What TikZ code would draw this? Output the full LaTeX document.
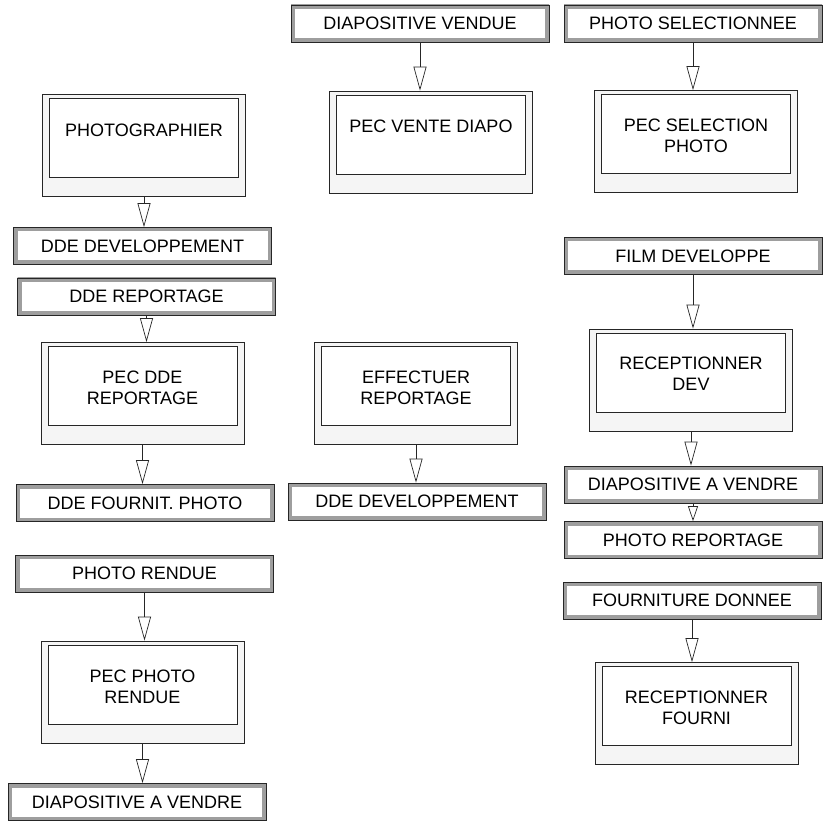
\documentclass[tikz,border=0pt]{standalone}
\usepackage{fontspec}
\setmainfont{Liberation Sans}
\usetikzlibrary{arrows.meta}

\begin{document}
\begin{tikzpicture}[x=1pt, y=-1pt, every node/.style={font=\fontsize{18}{21}\selectfont},
	evt/.style={draw=black!85, line width=0.7pt, fill=white, minimum width=258pt, minimum height=37pt, inner sep=0pt,
		path picture={\draw[black!38, line width=8pt] (path picture bounding box.south west) rectangle (path picture bounding box.north east);}},
	proc/.style={draw=black!85, fill=black!4, line width=0.7pt, minimum width=203pt, minimum height=102pt, inner sep=0pt,
		path picture={\draw[black!85, line width=0.7pt, fill=white] ([xshift=7pt, yshift=-4pt]path picture bounding box.north west) rectangle ([xshift=-7pt, yshift=19pt]path picture bounding box.south east);}},
	ptext/.style={align=center, inner sep=0pt},
	flow/.style={draw=black!85, line width=0.7pt, -{Triangle[open, length=24pt, width=13pt]}}]
	\useasboundingbox[fill=white] (0,0) rectangle (823,821);
	% left column
	\node[proc] (photographier) at (144,145.5) {};
	\node[ptext] (photographier-t) at (144,130.5) {PHOTOGRAPHIER};
	\node[evt] (ddedev1) at (142.5,246) {DDE DEVELOPPEMENT};
	\node[evt] (ddereport) at (146.5,296.5) {DDE REPORTAGE};
	\node[proc] (pecddereport) at (142.5,393.5) {};
	\node[ptext] (pecddereport-t) at (142.5,388) {PEC DDE\\ REPORTAGE};
	\node[evt] (ddefournit) at (145,503) {DDE FOURNIT. PHOTO};
	\node[evt] (photorendue) at (144.5,573.5) {PHOTO RENDUE};
	\node[proc] (pecphotorendue) at (142.5,692) {};
	\node[ptext] (pecphotorendue-t) at (142.5,687) {PEC PHOTO\\ RENDUE};
	\node[evt] (diapovendre1) at (137,802) {DIAPOSITIVE A VENDRE};
	% middle column
	\node[evt] (diapovendue) at (420,23.5) {DIAPOSITIVE VENDUE};
	\node[proc] (pecventediapo) at (431,142) {};
	\node[ptext] (pecventediapo-t) at (431,126.5) {PEC VENTE DIAPO};
	\node[proc] (effectuerreport) at (416,393) {};
	\node[ptext] (effectuerreport-t) at (416,388) {EFFECTUER\\ REPORTAGE};
	\node[evt] (ddedev2) at (417,501.5) {DDE DEVELOPPEMENT};
	% right column
	\node[evt] (photoselect) at (693,23.5) {PHOTO SELECTIONNEE};
	\node[proc] (pecselection) at (696,141.5) {};
	\node[ptext] (pecselection-t) at (696,136) {PEC SELECTION\\ PHOTO};
	\node[evt] (filmdev) at (693,256) {FILM DEVELOPPE};
	\node[proc] (receptdev) at (691,380) {};
	\node[ptext] (receptdev-t) at (691,374) {RECEPTIONNER\\ DEV};
	\node[evt] (diapovendre2) at (693,484.5) {DIAPOSITIVE A VENDRE};
	\node[evt] (photoreport) at (693,540) {PHOTO REPORTAGE};
	\node[evt] (fournitdonnee) at (692,600.5) {FOURNITURE DONNEE};
	\node[proc] (receptfourni) at (696.5,713.5) {};
	\node[ptext] (receptfourni-t) at (696.5,708) {RECEPTIONNER\\ FOURNI};
	% flows
	\draw[flow] (photographier) -- (photographier |- ddedev1.north);
	\draw[flow] (ddereport) -- (ddereport |- pecddereport.north);
	\draw[flow] (pecddereport) -- (pecddereport |- ddefournit.north);
	\draw[flow] (photorendue) -- (photorendue |- pecphotorendue.north);
	\draw[flow] (pecphotorendue) -- (pecphotorendue |- diapovendre1.north);
	\draw[flow] (diapovendue) -- (diapovendue |- pecventediapo.north);
	\draw[flow] (effectuerreport) -- (effectuerreport |- ddedev2.north);
	\draw[flow] (photoselect) -- (photoselect |- pecselection.north);
	\draw[flow] (filmdev) -- (filmdev |- receptdev.north);
	\draw[flow] (receptdev) -- (receptdev |- diapovendre2.north);
	\draw[flow, -{Triangle[open, length=15pt, width=10pt]}] (diapovendre2) -- (diapovendre2 |- photoreport.north);
	\draw[flow] (fournitdonnee) -- (fournitdonnee |- receptfourni.north);
\end{tikzpicture}
\end{document}
